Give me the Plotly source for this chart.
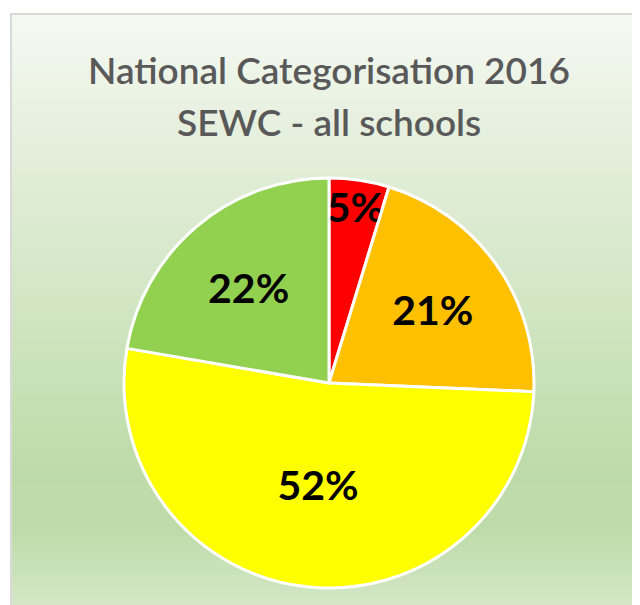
import plotly.graph_objects as go

# ---- data ----
categories = ["Red", "Amber", "Yellow", "Green"]
school_counts = [7, 31, 77, 33]
slice_colors = ["#FF0000", "#FFC000", "#FFFF00", "#92D050"]
title_lines = ["National Categorisation 2016", "SEWC - all schools"]

# page body has an 8px margin; figure drawn in the remaining area
OFF = 8
W, H = 640 - OFF, 605 - OFF

def px(x):
    return (x - OFF) / W

def py(y):
    return 1 - (y - OFF) / H

CX, CY, R = 329, 383, 205

fig = go.Figure()

fig.add_trace(go.Pie(
    labels=categories,
    values=school_counts,
    sort=False,
    direction="clockwise",
    rotation=0,
    marker=dict(colors=slice_colors, line=dict(color="white", width=3)),
    textinfo="percent",
    texttemplate="%{percent:.0%}",
    textposition="inside",
    insidetextorientation="horizontal",
    textfont=dict(family="Lato", size=41, color="black", weight="bold"),
    hoverinfo="label+value+percent",
    showlegend=False,
    domain=dict(x=[px(CX - R), px(CX + R)], y=[py(CY + R), py(CY - R)]),
))

# ---- gradient background of chart area ----
def hex2rgb(h):
    h = h.lstrip("#")
    return tuple(int(h[i:i + 2], 16) for i in (0, 2, 4))

stops = [(15, "#f5f9f2"), (130, "#e6f0de"), (300, "#d2e6c4"),
         (470, "#bddba8"), (530, "#bfdbaa"), (605, "#d3e7c6")]

def color_at(y):
    for (y0, c0), (y1, c1) in zip(stops[:-1], stops[1:]):
        if y0 <= y <= y1:
            t = (y - y0) / (y1 - y0)
            a, b = hex2rgb(c0), hex2rgb(c1)
            return "rgb(%d,%d,%d)" % tuple(round(a[i] + (b[i] - a[i]) * t) for i in range(3))
    return stops[-1][1] if y > stops[-1][0] else stops[0][1]

shapes = []
x_left, y_top = 12, 15
step = 4
y = y_top
while y < 606:
    shapes.append(dict(type="rect", xref="paper", yref="paper", layer="below",
                       x0=px(x_left), x1=1.02, y0=py(y + step + 0.5), y1=py(y),
                       fillcolor=color_at(y + step / 2), line=dict(width=0)))
    y += step
# border
shapes.append(dict(type="rect", xref="paper", yref="paper", layer="below",
                   x0=px(x_left - 1), x1=1.05, y0=-0.05, y1=py(y_top - 1),
                   fillcolor="rgba(0,0,0,0)", line=dict(color="#d9d9d9", width=2)))

annotations = []
for line, cy in zip(title_lines, [69, 122]):
    annotations.append(dict(text=line, xref="paper", yref="paper",
                            x=px(CX), y=py(cy), xanchor="center", yanchor="middle",
                            showarrow=False,
                            font=dict(family="Lato", size=37, color="#595959", weight=600)))

fig.update_layout(
    width=W, height=H,
    margin=dict(l=0, r=0, t=0, b=0),
    paper_bgcolor="white",
    plot_bgcolor="white",
    shapes=shapes,
    annotations=annotations,
    uniformtext=dict(minsize=41, mode="show"),
)

fig.write_html("out.html")
